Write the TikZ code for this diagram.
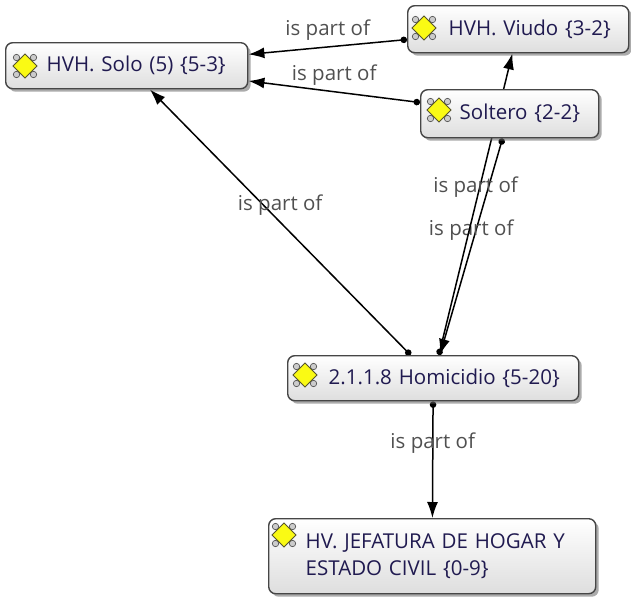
\documentclass[tikz,border=0pt]{standalone}
\usepackage{fontspec}
\setmainfont{Open Sans}
\usetikzlibrary{arrows.meta,shadows,backgrounds}
\definecolor{codetext}{RGB}{32,26,80}
\definecolor{boxline}{RGB}{70,70,70}
\definecolor{reltext}{RGB}{80,80,80}
\definecolor{codeyellow}{RGB}{250,250,20}
\tikzset{
  codebox/.style={draw=boxline, line width=1.4pt, rounded corners=7pt, top color=white, bottom color=black!13,
    drop shadow={shadow xshift=3pt, shadow yshift=-3pt, fill=black!60, opacity=.55},
    anchor=north west, align=left, inner xsep=5pt, inner ysep=0pt, text=codetext, font=\fontsize{20.5}{27}\selectfont},
  partof/.style={line width=1.5pt, {Circle[length=6.5pt]}-{Latex[length=16pt,width=11pt]}},
  partlabel/.style={midway, yshift=17pt, text=reltext, font=\fontsize{20.5}{24}\selectfont},
  pics/codeicon/.style={code={
    \foreach \sx/\sy in {1/1,1/-1,-1/1,-1/-1}
      \draw[black!65, fill=black!20, line width=.7pt] (\sx*8.5,\sy*8.5) circle (3.2);
    \draw[black!50!olive, fill=codeyellow, line width=.8pt] (0,-12) -- (12,0) -- (0,12) -- (-12,0) -- cycle;}}
}
\begin{document}
\begin{tikzpicture}[x=1pt,y=-1pt]
\useasboundingbox (0,0) rectangle (631,598);
% codes
\node[codebox, text width=232pt, minimum height=46pt] (solo) at (5,42) {\hspace*{36pt}HVH. Solo (5) \{5-3\}};
\node[codebox, text width=211pt, minimum height=47pt] (viudo) at (407,5) {\hspace*{36pt}HVH. Viudo \{3-2\}};
\node[codebox, text width=168pt, minimum height=48pt] (soltero) at (420,89) {\hspace*{34pt}Soltero \{2-2\}};
\node[codebox, text width=281pt, minimum height=45pt] (homicidio) at (287,355) {\hspace*{36pt}2.1.1.8 Homicidio \{5-20\}};
\node[codebox, text width=317pt, minimum height=75pt] (jefatura) at (268,518) {\hspace*{32pt}HV. JEFATURA DE HOGAR Y\\\hspace*{32pt}ESTADO CIVIL \{0-9\}};
\foreach \n/\dx/\dy in {solo/20pt/24pt,viudo/17pt/23pt,soltero/19pt/21pt,homicidio/18pt/20pt,jefatura/16pt/17pt}
  \pic at ([xshift=\dx,yshift=-\dy]\n.north west) {codeicon};
% relations
\begin{scope}[on background layer]
\draw[partof] (viudo) -- node[partlabel]{is part of} (solo);
\draw[partof] (soltero) -- node[partlabel]{is part of} (solo);
\draw[partof] (homicidio) -- node[partlabel]{is part of} (solo);
\draw[partof] (soltero) -- node[partlabel]{is part of} (homicidio);
\draw[partof] (homicidio) -- node[partlabel]{is part of} (viudo);
\draw[partof] (homicidio) -- node[partlabel]{is part of} (jefatura);
\end{scope}
\end{tikzpicture}
\end{document}
